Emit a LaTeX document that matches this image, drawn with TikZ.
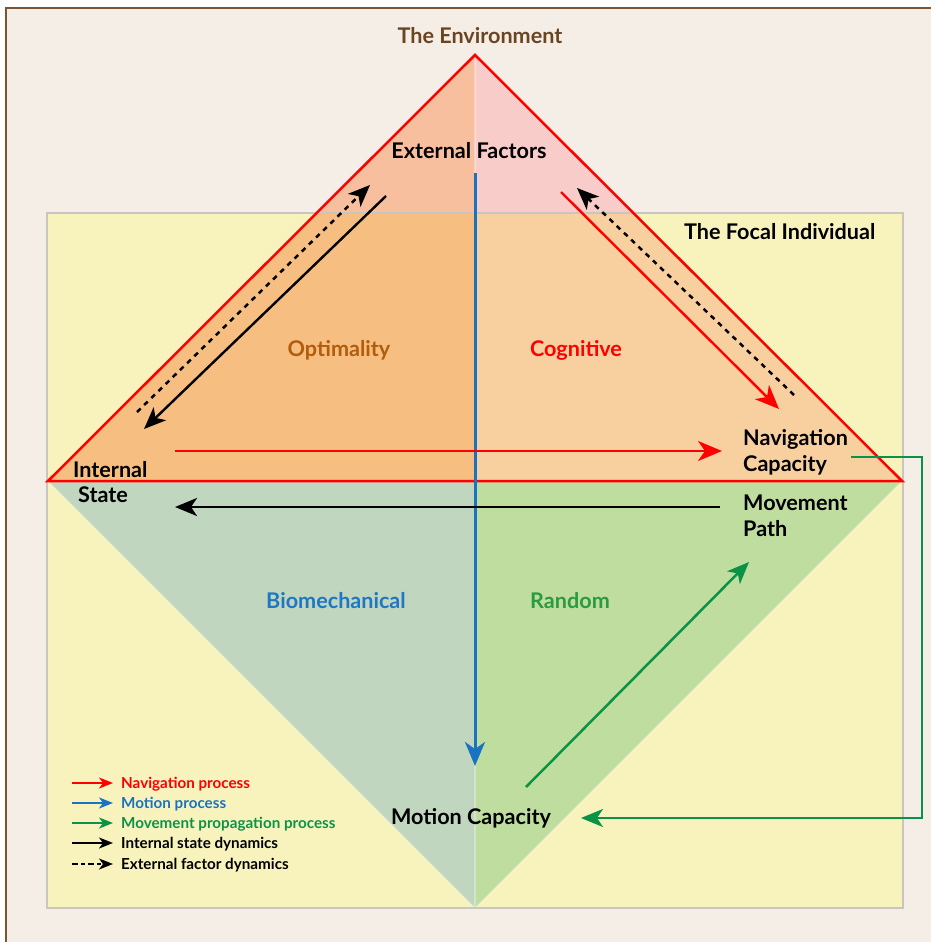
\documentclass[tikz,border=0pt]{standalone}
\usepackage{fontspec}
\setmainfont{Lato}
\usetikzlibrary{arrows.meta}
\definecolor{cream}{HTML}{F5EEE7}
\definecolor{frame}{HTML}{7B5530}
\definecolor{focal}{HTML}{F8F3BD}
\definecolor{focalline}{HTML}{C9C5BF}
\definecolor{envL}{HTML}{F8BF9F}
\definecolor{envR}{HTML}{F8CCC8}
\definecolor{indL}{HTML}{F6BE80}
\definecolor{indR}{HTML}{F8D0A0}
\definecolor{lowL}{HTML}{C0D6BF}
\definecolor{lowR}{HTML}{C0DDA0}
\definecolor{nred}{HTML}{FF0000}
\definecolor{mblue}{HTML}{1874C2}
\definecolor{pgreen}{HTML}{0A9346}
\definecolor{envtext}{HTML}{6B4522}
\definecolor{opttext}{HTML}{B35C0C}
\definecolor{biotext}{HTML}{1F77C4}
\definecolor{randtext}{HTML}{2A9B3E}
\tikzset{
  lbl/.style={font=\bfseries\fontsize{21.6}{26}\selectfont, inner sep=0pt},
  leg/.style={font=\bfseries\fontsize{15.2}{18}\selectfont, inner sep=0pt, anchor=base west},
  bigtip/.style={-{Stealth[length=24pt,width=20pt,inset=7pt]}},
  midtip/.style={-{Stealth[length=22pt,width=18pt,inset=6pt]}},
  smalltip/.style={-{Stealth[length=14pt,width=11pt,inset=4pt]}},
  dashline/.style={dash pattern=on 5pt off 5pt},
}
\begin{document}
\begin{tikzpicture}[x=1pt,y=-1pt]
\useasboundingbox (0,0) rectangle (931,942);
\fill[white] (0,0) rectangle (931,942);
\fill[cream] (6,8) rectangle (931,942);
\draw[frame, line width=2.6pt] (6,942) -- (6,8) -- (931,8);
% focal individual box
\fill[focal] (47,213) rectangle (903,908);
% upper triangle fills
\begin{scope}
  \clip (475,55) -- (48,481) -- (475,481) -- cycle;
  \fill[envL] (0,0) rectangle (475,213);
  \fill[indL] (0,213) rectangle (475,481);
\end{scope}
\begin{scope}
  \clip (475,55) -- (902,481) -- (475,481) -- cycle;
  \fill[envR] (475,0) rectangle (931,213);
  \fill[indR] (475,213) rectangle (931,481);
\end{scope}
% lower triangle fills
\fill[lowL] (48,481) -- (475,481) -- (475,908) -- cycle;
\fill[lowR] (475,481) -- (902,481) -- (475,908) -- cycle;
\draw[white, opacity=0.35, line width=1pt] (48,481) -- (475,908) -- (902,481);
\draw[white, opacity=0.3, line width=1.2pt] (475,55) -- (475,908);
% focal box border
\draw[focalline, line width=1.4pt] (47,213) rectangle (903,908);
% red triangle
\draw[nred, line width=2.5pt, line join=miter] (475,55) -- (48,481) -- (902,481) -- cycle;

% texts
\node[lbl, text=envtext, anchor=base] (env) at (480,44) {The Environment};
\node[lbl, anchor=base] (ext) at (469,158) {External Factors};
\node[lbl, anchor=base west] (focal) at (684,239) {The Focal Individual};
\node[lbl, text=opttext, anchor=base] (opt) at (339,356) {Optimality};
\node[lbl, text=nred, anchor=base] (cog) at (576,356) {Cognitive};
\node[lbl, text=biotext, anchor=base] (bio) at (336,608) {Biomechanical};
\node[lbl, text=randtext, anchor=base] (rand) at (570,608) {Random};
\node[lbl, anchor=base west] (intA) at (73,477) {Internal};
\node[lbl, anchor=base west] (intB) at (78,502) {State};
\node[lbl, anchor=base west] (navA) at (743,445) {Navigation};
\node[lbl, anchor=base west] (navB) at (743,471) {Capacity};
\node[lbl, anchor=base west] (movA) at (743,510) {Movement};
\node[lbl, anchor=base west] (movB) at (743,536) {Path};
\node[lbl, anchor=base] (mot) at (471,824) {Motion Capacity};

% connector end points
\coordinate (bS) at (475,173);
\coordinate (bE) at (475,766);
\coordinate (rS) at (175,451);
\coordinate (rE) at (722,451);
\coordinate (kS) at (720,507);
\coordinate (kE) at (175,507);
\coordinate (lsS) at (386,196);
\coordinate (lsE) at (144,429);
\coordinate (ldS) at (137,412);
\coordinate (ldE) at (370,185);
\coordinate (rrS) at (561,192);
\coordinate (rrE) at (779,409);
\coordinate (rdS) at (794,395);
\coordinate (rdE) at (577,188);
\coordinate (gS) at (526,787);
\coordinate (gE) at (749,562);
\coordinate (cS) at (851,457);
\coordinate (cC1) at (922,457);
\coordinate (cC2) at (922,818);
\coordinate (cE) at (581,818);

% arrows
\draw[mblue, line width=3pt, bigtip] (bS) -- (bE);
\draw[nred, line width=2.5pt, bigtip] (rS) -- (rE);
\draw[black, line width=2.6pt, midtip] (kS) -- (kE);
\draw[black, line width=2.4pt, midtip] (lsS) -- (lsE);
\draw[black, line width=2.5pt, dashline, midtip] (ldS) -- (ldE);
\draw[nred, line width=2.4pt, bigtip] (rrS) -- (rrE);
\draw[black, line width=2.5pt, dashline, midtip] (rdS) -- (rdE);
\draw[pgreen, line width=2.5pt, midtip] (gS) -- (gE);
\draw[pgreen, line width=2.3pt, midtip] (cS) -- (cC1) -- (cC2) -- (cE);

% legend
\coordinate (l1s) at (72,783); \coordinate (l1e) at (113,783);
\coordinate (l2s) at (72,803); \coordinate (l2e) at (113,803);
\coordinate (l3s) at (72,823); \coordinate (l3e) at (113,823);
\coordinate (l4s) at (72,843); \coordinate (l4e) at (113,843);
\coordinate (l5s) at (72,864); \coordinate (l5e) at (113,864);
\draw[nred, line width=1.8pt, smalltip] (l1s) -- (l1e);
\draw[mblue, line width=1.8pt, smalltip] (l2s) -- (l2e);
\draw[pgreen, line width=1.8pt, smalltip] (l3s) -- (l3e);
\draw[black, line width=1.8pt, smalltip] (l4s) -- (l4e);
\draw[black, line width=1.8pt, dash pattern=on 6pt off 3pt on 4pt off 3pt, smalltip] (l5s) -- (l5e);
\node[leg, text=nred] (t1) at (121,788) {Navigation process};
\node[leg, text=mblue] (t2) at (121,808) {Motion process};
\node[leg, text=pgreen] (t3) at (121,828) {Movement propagation process};
\node[leg] (t4) at (121,848) {Internal state dynamics};
\node[leg] (t5) at (121,869) {External factor dynamics};
\end{tikzpicture}
\end{document}
